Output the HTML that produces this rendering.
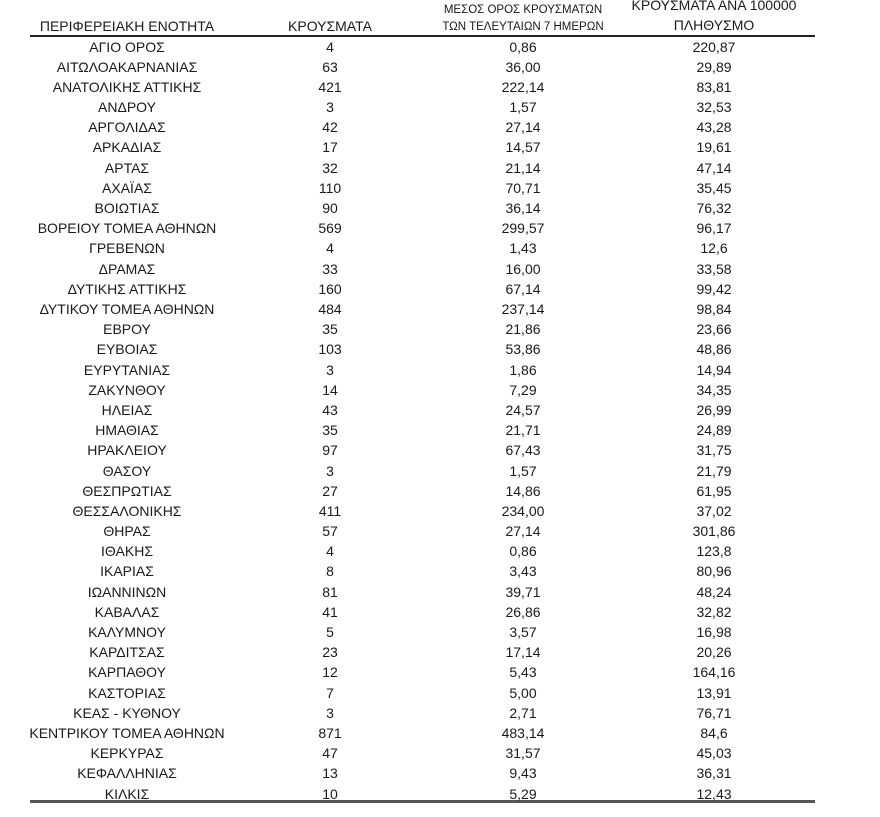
<!DOCTYPE html>
<html><head><meta charset="utf-8"><style>
body{margin:0;background:#fff;width:880px;height:817px;position:relative;overflow:hidden;font-family:"Liberation Sans",sans-serif;color:#1a1a1a;}
.t{position:absolute;white-space:nowrap;transform:translateX(-50%);font-size:14px;line-height:15px;}
.s{font-size:11.5px;line-height:12px;}
.ln{position:absolute;left:30px;width:785px;}
</style></head><body>
<div class="t" style="left:127px;top:19px">ΠΕΡΙΦΕΡΕΙΑΚΗ ΕΝΟΤΗΤΑ</div>
<div class="t" style="left:330px;top:19px">ΚΡΟΥΣΜΑΤΑ</div>
<div class="t s" style="left:523px;top:4px">ΜΕΣΟΣ ΟΡΟΣ ΚΡΟΥΣΜΑΤΩΝ</div>
<div class="t s" style="left:523px;top:21px">ΤΩΝ ΤΕΛΕΥΤΑΙΩΝ 7 ΗΜΕΡΩΝ</div>
<div class="t" style="left:714px;top:-2px">ΚΡΟΥΣΜΑΤΑ ΑΝΑ 100000</div>
<div class="t" style="left:714px;top:18px">ΠΛΗΘΥΣΜΟ</div>
<div class="ln" style="top:35px;height:2px;background:#222"></div>
<div class="ln" style="top:800px;height:3px;background:#555"></div>
<div id="rows"></div>
<script>
var d=[["ΑΓΙΟ ΟΡΟΣ","4","0,86","220,87"],["ΑΙΤΩΛΟΑΚΑΡΝΑΝΙΑΣ","63","36,00","29,89"],["ΑΝΑΤΟΛΙΚΗΣ ΑΤΤΙΚΗΣ","421","222,14","83,81"],["ΑΝΔΡΟΥ","3","1,57","32,53"],["ΑΡΓΟΛΙΔΑΣ","42","27,14","43,28"],["ΑΡΚΑΔΙΑΣ","17","14,57","19,61"],["ΑΡΤΑΣ","32","21,14","47,14"],["ΑΧΑΪΑΣ","110","70,71","35,45"],["ΒΟΙΩΤΙΑΣ","90","36,14","76,32"],["ΒΟΡΕΙΟΥ ΤΟΜΕΑ ΑΘΗΝΩΝ","569","299,57","96,17"],["ΓΡΕΒΕΝΩΝ","4","1,43","12,6"],["ΔΡΑΜΑΣ","33","16,00","33,58"],["ΔΥΤΙΚΗΣ ΑΤΤΙΚΗΣ","160","67,14","99,42"],["ΔΥΤΙΚΟΥ ΤΟΜΕΑ ΑΘΗΝΩΝ","484","237,14","98,84"],["ΕΒΡΟΥ","35","21,86","23,66"],["ΕΥΒΟΙΑΣ","103","53,86","48,86"],["ΕΥΡΥΤΑΝΙΑΣ","3","1,86","14,94"],["ΖΑΚΥΝΘΟΥ","14","7,29","34,35"],["ΗΛΕΙΑΣ","43","24,57","26,99"],["ΗΜΑΘΙΑΣ","35","21,71","24,89"],["ΗΡΑΚΛΕΙΟΥ","97","67,43","31,75"],["ΘΑΣΟΥ","3","1,57","21,79"],["ΘΕΣΠΡΩΤΙΑΣ","27","14,86","61,95"],["ΘΕΣΣΑΛΟΝΙΚΗΣ","411","234,00","37,02"],["ΘΗΡΑΣ","57","27,14","301,86"],["ΙΘΑΚΗΣ","4","0,86","123,8"],["ΙΚΑΡΙΑΣ","8","3,43","80,96"],["ΙΩΑΝΝΙΝΩΝ","81","39,71","48,24"],["ΚΑΒΑΛΑΣ","41","26,86","32,82"],["ΚΑΛΥΜΝΟΥ","5","3,57","16,98"],["ΚΑΡΔΙΤΣΑΣ","23","17,14","20,26"],["ΚΑΡΠΑΘΟΥ","12","5,43","164,16"],["ΚΑΣΤΟΡΙΑΣ","7","5,00","13,91"],["ΚΕΑΣ - ΚΥΘΝΟΥ","3","2,71","76,71"],["ΚΕΝΤΡΙΚΟΥ ΤΟΜΕΑ ΑΘΗΝΩΝ","871","483,14","84,6"],["ΚΕΡΚΥΡΑΣ","47","31,57","45,03"],["ΚΕΦΑΛΛΗΝΙΑΣ","13","9,43","36,31"],["ΚΙΛΚΙΣ","10","5,29","12,43"]];
var x=[127,330,523,714],h="";
d.forEach(function(r,i){var y=39.5+i*20.19;r.forEach(function(v,j){h+='<div class="t" style="left:'+x[j]+'px;top:'+y.toFixed(1)+'px">'+v+'</div>';});});
document.getElementById("rows").innerHTML=h;
</script>
</body></html>
